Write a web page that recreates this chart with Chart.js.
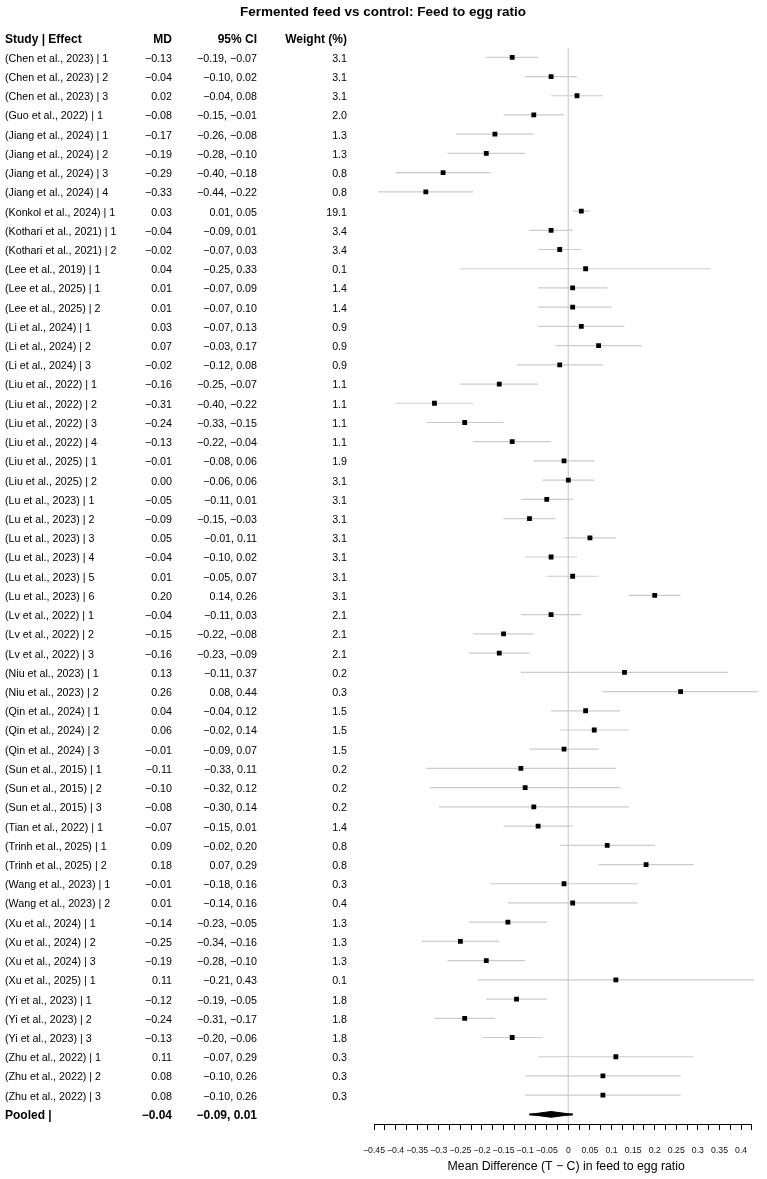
<!DOCTYPE html>
<html>
<head>
<meta charset="utf-8">
<script src="https://cdn.jsdelivr.net/npm/chart.js@4.4.1/dist/chart.umd.min.js"></script>
<style>
  html, body { margin: 0; padding: 0; background: #ffffff; }
  #wrap { width: 767px; height: 1179px; }
</style>
</head>
<body>
<div id="wrap"><canvas id="c" width="767" height="1179"></canvas></div>
<script>
const chartTitle = "Fermented feed vs control: Feed to egg ratio";
const axisTitle = "Mean Difference (T \u2212 C) in feed to egg ratio";
const headers = ["Study | Effect", "MD", "95% CI", "Weight (%)"];

const studies = [
  "(Chen et al., 2023) | 1", "(Chen et al., 2023) | 2", "(Chen et al., 2023) | 3",
  "(Guo et al., 2022) | 1",
  "(Jiang et al., 2024) | 1", "(Jiang et al., 2024) | 2", "(Jiang et al., 2024) | 3", "(Jiang et al., 2024) | 4",
  "(Konkol et al., 2024) | 1",
  "(Kothari et al., 2021) | 1", "(Kothari et al., 2021) | 2",
  "(Lee et al., 2019) | 1",
  "(Lee et al., 2025) | 1", "(Lee et al., 2025) | 2",
  "(Li et al., 2024) | 1", "(Li et al., 2024) | 2", "(Li et al., 2024) | 3",
  "(Liu et al., 2022) | 1", "(Liu et al., 2022) | 2", "(Liu et al., 2022) | 3", "(Liu et al., 2022) | 4",
  "(Liu et al., 2025) | 1", "(Liu et al., 2025) | 2",
  "(Lu et al., 2023) | 1", "(Lu et al., 2023) | 2", "(Lu et al., 2023) | 3", "(Lu et al., 2023) | 4", "(Lu et al., 2023) | 5", "(Lu et al., 2023) | 6",
  "(Lv et al., 2022) | 1", "(Lv et al., 2022) | 2", "(Lv et al., 2022) | 3",
  "(Niu et al., 2023) | 1", "(Niu et al., 2023) | 2",
  "(Qin et al., 2024) | 1", "(Qin et al., 2024) | 2", "(Qin et al., 2024) | 3",
  "(Sun et al., 2015) | 1", "(Sun et al., 2015) | 2", "(Sun et al., 2015) | 3",
  "(Tian et al., 2022) | 1",
  "(Trinh et al., 2025) | 1", "(Trinh et al., 2025) | 2",
  "(Wang et al., 2023) | 1", "(Wang et al., 2023) | 2",
  "(Xu et al., 2024) | 1", "(Xu et al., 2024) | 2", "(Xu et al., 2024) | 3",
  "(Xu et al., 2025) | 1",
  "(Yi et al., 2023) | 1", "(Yi et al., 2023) | 2", "(Yi et al., 2023) | 3",
  "(Zhu et al., 2022) | 1", "(Zhu et al., 2022) | 2", "(Zhu et al., 2022) | 3"
];

const md = [-0.13,-0.04,0.02,-0.08,-0.17,-0.19,-0.29,-0.33,0.03,-0.04,-0.02,0.04,0.01,0.01,0.03,0.07,-0.02,-0.16,-0.31,-0.24,-0.13,-0.01,0.00,-0.05,-0.09,0.05,-0.04,0.01,0.20,-0.04,-0.15,-0.16,0.13,0.26,0.04,0.06,-0.01,-0.11,-0.10,-0.08,-0.07,0.09,0.18,-0.01,0.01,-0.14,-0.25,-0.19,0.11,-0.12,-0.24,-0.13,0.11,0.08,0.08];

const ciLow = [-0.19,-0.10,-0.04,-0.15,-0.26,-0.28,-0.40,-0.44,0.01,-0.09,-0.07,-0.25,-0.07,-0.07,-0.07,-0.03,-0.12,-0.25,-0.40,-0.33,-0.22,-0.08,-0.06,-0.11,-0.15,-0.01,-0.10,-0.05,0.14,-0.11,-0.22,-0.23,-0.11,0.08,-0.04,-0.02,-0.09,-0.33,-0.32,-0.30,-0.15,-0.02,0.07,-0.18,-0.14,-0.23,-0.34,-0.28,-0.21,-0.19,-0.31,-0.20,-0.07,-0.10,-0.10];

const ciHigh = [-0.07,0.02,0.08,-0.01,-0.08,-0.10,-0.18,-0.22,0.05,0.01,0.03,0.33,0.09,0.10,0.13,0.17,0.08,-0.07,-0.22,-0.15,-0.04,0.06,0.06,0.01,-0.03,0.11,0.02,0.07,0.26,0.03,-0.08,-0.09,0.37,0.44,0.12,0.14,0.07,0.11,0.12,0.14,0.01,0.20,0.29,0.16,0.16,-0.05,-0.16,-0.10,0.43,-0.05,-0.17,-0.06,0.29,0.26,0.26];

const weights = [3.1,3.1,3.1,2.0,1.3,1.3,0.8,0.8,19.1,3.4,3.4,0.1,1.4,1.4,0.9,0.9,0.9,1.1,1.1,1.1,1.1,1.9,3.1,3.1,3.1,3.1,3.1,3.1,3.1,2.1,2.1,2.1,0.2,0.3,1.5,1.5,1.5,0.2,0.2,0.2,1.4,0.8,0.8,0.3,0.4,1.3,1.3,1.3,0.1,1.8,1.8,1.8,0.3,0.3,0.3];

const pooledLabel = "Pooled |";
const pooledMD = -0.04;
const pooledLow = -0.09;
const pooledHigh = 0.01;

const xTickValues = [-0.45,-0.425,-0.4,-0.375,-0.35,-0.325,-0.3,-0.275,-0.25,-0.225,-0.2,-0.175,-0.15,-0.125,-0.1,-0.075,-0.05,-0.025,0,0.025,0.05,0.075,0.1,0.125,0.15,0.175,0.2,0.225,0.25,0.275,0.3,0.325,0.35,0.375,0.4,0.425];
const xTickLabels = {"-0.45":"\u22120.45","-0.4":"\u22120.4","-0.35":"\u22120.35","-0.3":"\u22120.3","-0.25":"\u22120.25","-0.2":"\u22120.2","-0.15":"\u22120.15","-0.1":"\u22120.1","-0.05":"\u22120.05","0":"0","0.05":"0.05","0.1":"0.1","0.15":"0.15","0.2":"0.2","0.25":"0.25","0.3":"0.3","0.35":"0.35","0.4":"0.4"};

const FONT = '"Liberation Sans", Arial, sans-serif';
const nRows = studies.length;        // 55
const pooledRow = nRows + 1;         // 56

function fmt(v) {
  const s = v.toFixed(2);
  return s.replace('-', '\u2212');
}

const whiskerData = [];
for (let i = 0; i < nRows; i++) {
  whiskerData.push({x: ciLow[i], y: i + 1});
  whiskerData.push({x: ciHigh[i], y: i + 1});
  whiskerData.push({x: null, y: null});
}
const pointData = md.map((v, i) => ({x: v, y: i + 1}));
const dh = 0.15;
const diamondData = [
  {x: pooledLow, y: pooledRow},
  {x: pooledMD, y: pooledRow - dh},
  {x: pooledHigh, y: pooledRow},
  {x: pooledMD, y: pooledRow + dh},
  {x: pooledLow, y: pooledRow}
];
const pooledLine = [{x: pooledLow, y: pooledRow}, {x: pooledHigh, y: pooledRow}];
const zeroLine = [{x: 0, y: 0.5}, {x: 0, y: nRows + 1.5}];

const textPlugin = {
  id: 'textPlugin',
  afterDraw(chart) {
    const ctx = chart.ctx;
    const ys = chart.scales.y;
    const xs = chart.scales.x;
    const area = chart.chartArea;
    ctx.save();
    ctx.fillStyle = '#000';
    ctx.textBaseline = 'middle';
    ctx.font = 'bold 13.5px ' + FONT;
    ctx.textAlign = 'center';
    ctx.fillText(chartTitle, 383, 12);
    const colX = [5, 172, 257, 347];
    const hy = ys.getPixelForValue(0) + 2;
    ctx.font = 'bold 12px ' + FONT;
    ctx.textAlign = 'left';
    ctx.fillText(headers[0], colX[0], hy);
    ctx.textAlign = 'right';
    ctx.fillText(headers[1], colX[1], hy);
    ctx.fillText(headers[2], colX[2], hy);
    ctx.fillText(headers[3], colX[3], hy);
    ctx.font = '10.7px ' + FONT;
    for (let i = 0; i < nRows; i++) {
      const py = ys.getPixelForValue(i + 1) + 1.5;
      ctx.textAlign = 'left';
      ctx.fillText(studies[i], colX[0], py);
      ctx.textAlign = 'right';
      ctx.fillText(fmt(md[i]), colX[1], py);
      ctx.fillText(fmt(ciLow[i]) + ', ' + fmt(ciHigh[i]), colX[2], py);
      ctx.fillText(weights[i].toFixed(1), colX[3], py);
    }
    const pp = ys.getPixelForValue(pooledRow) + 1.5;
    ctx.font = 'bold 12px ' + FONT;
    ctx.textAlign = 'left';
    ctx.fillText(pooledLabel, colX[0], pp);
    ctx.textAlign = 'right';
    ctx.fillText(fmt(pooledMD), colX[1], pp);
    ctx.fillText(fmt(pooledLow) + ', ' + fmt(pooledHigh), colX[2], pp);
    ctx.strokeStyle = '#000';
    ctx.lineWidth = 1;
    ctx.beginPath();
    const ay = Math.round(area.bottom) + 0.5;
    ctx.moveTo(xs.getPixelForValue(xTickValues[0]), ay);
    ctx.lineTo(xs.getPixelForValue(xTickValues[xTickValues.length - 1]), ay);
    ctx.stroke();
    ctx.font = '12.3px ' + FONT;
    ctx.textAlign = 'center';
    ctx.fillText(axisTitle, (area.left + area.right) / 2, 1167);
    ctx.restore();
  }
};

new Chart(document.getElementById('c'), {
  type: 'scatter',
  data: {
    datasets: [
      {
        data: zeroLine, showLine: true, borderColor: '#d4d4d4', borderWidth: 1,
        pointRadius: 0, fill: false, order: 5
      },
      {
        data: whiskerData, showLine: true, spanGaps: false, borderColor: '#cbcbcb', borderWidth: 1.2,
        pointRadius: 0, fill: false, order: 4
      },
      {
        data: pointData, showLine: false, pointStyle: 'rect', pointRadius: 3.4,
        backgroundColor: '#000', borderWidth: 0, order: 1
      },
      {
        data: pooledLine, showLine: true, borderColor: '#000', borderWidth: 2,
        pointRadius: 0, fill: false, order: 3
      },
      {
        data: diamondData, showLine: true, borderColor: '#000', borderWidth: 1,
        backgroundColor: '#000', fill: 'shape', pointRadius: 0, tension: 0, order: 2
      }
    ]
  },
  options: {
    responsive: false,
    animation: false,
    events: [],
    layout: { padding: { left: 374, right: 6, top: 47.7, bottom: 0 } },
    plugins: { legend: { display: false }, tooltip: { enabled: false }, title: { display: false } },
    scales: {
      x: {
        type: 'linear',
        min: -0.45,
        max: 0.44,
        afterBuildTicks(scale) { scale.ticks = xTickValues.map(v => ({value: v})); },
        afterFit(scale) { scale.height = 55; },
        border: { display: false },
        grid: { display: true, drawOnChartArea: false, drawTicks: true, tickLength: 6, color: '#000', tickColor: '#000', tickWidth: 1 },
        ticks: {
          autoSkip: false, maxRotation: 0, minRotation: 0, padding: 15,
          color: '#111', font: { family: FONT, size: 8.7 },
          callback(v) {
            const key = String(Math.round(v * 1000) / 1000);
            return xTickLabels[key] !== undefined ? xTickLabels[key] : '';
          }
        }
      },
      y: {
        type: 'linear', min: 0.5, max: nRows + 1.5, reverse: true, display: false
      }
    }
  },
  plugins: [textPlugin]
});
</script>
</body>
</html>
